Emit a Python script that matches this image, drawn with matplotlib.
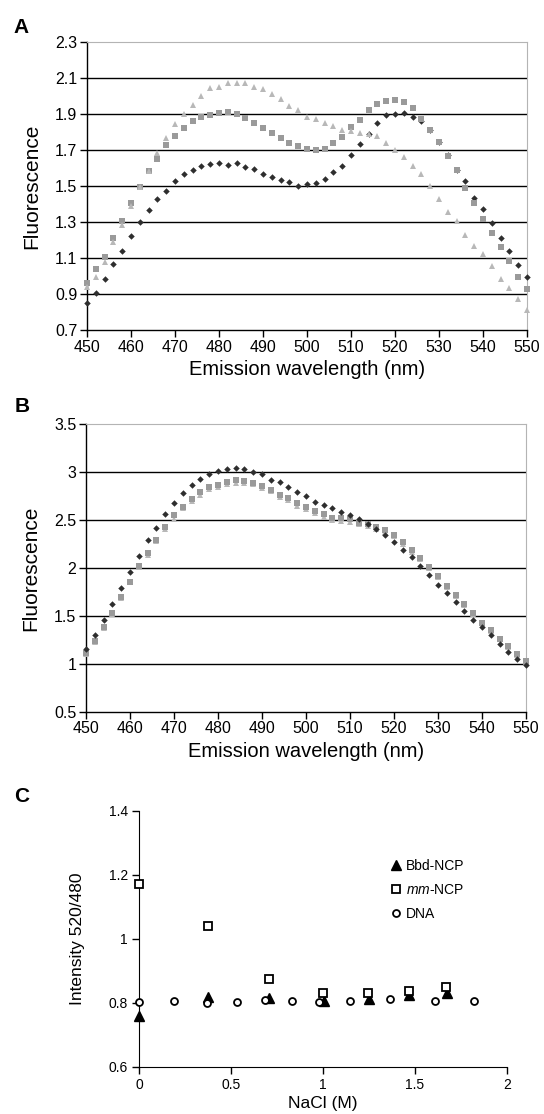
import numpy as np
import matplotlib
matplotlib.use("Agg")
import matplotlib.pyplot as plt

plt.rcParams['font.family'] = ['Liberation Sans', 'DejaVu Sans']
plt.rcParams['mathtext.fontset'] = 'custom'
plt.rcParams['mathtext.rm'] = 'Liberation Sans'
plt.rcParams['mathtext.it'] = 'Liberation Sans:italic'

# emission wavelengths (nm), every 2 nm
wl = np.arange(450, 551, 2)

# panel A
a_dia = [0.852, 0.907, 0.985, 1.065, 1.141, 1.220, 1.298, 1.365, 1.426, 1.470, 1.528,
         1.567, 1.589, 1.611, 1.622, 1.626, 1.619, 1.626, 1.607, 1.593, 1.567,
         1.548, 1.531, 1.520, 1.498, 1.511, 1.517, 1.539, 1.576, 1.609, 1.672,
         1.731, 1.789, 1.850, 1.893, 1.902, 1.904, 1.881, 1.859, 1.809, 1.746,
         1.672, 1.591, 1.526, 1.435, 1.370, 1.296, 1.213, 1.141, 1.061, 0.994]
a_sq = [0.963, 1.037, 1.106, 1.213, 1.304, 1.404, 1.496, 1.585, 1.650, 1.726, 1.776,
        1.820, 1.859, 1.881, 1.896, 1.906, 1.911, 1.900, 1.878, 1.852, 1.824,
        1.796, 1.767, 1.741, 1.724, 1.704, 1.700, 1.706, 1.737, 1.774, 1.826,
        1.865, 1.920, 1.954, 1.970, 1.980, 1.969, 1.931, 1.874, 1.809, 1.746,
        1.665, 1.591, 1.489, 1.404, 1.319, 1.241, 1.163, 1.083, 0.993, 0.928]
a_tri = [0.941, 0.996, 1.080, 1.187, 1.281, 1.391, 1.496, 1.585, 1.681, 1.769, 1.843,
         1.900, 1.952, 2.000, 2.044, 2.048, 2.070, 2.074, 2.074, 2.052, 2.039,
         2.011, 1.983, 1.946, 1.922, 1.881, 1.872, 1.848, 1.833, 1.811, 1.806,
         1.796, 1.787, 1.780, 1.741, 1.700, 1.663, 1.613, 1.565, 1.502, 1.428,
         1.357, 1.306, 1.230, 1.167, 1.120, 1.056, 0.985, 0.935, 0.870, 0.811]

# panel B
b_dia = [1.157, 1.303, 1.453, 1.621, 1.791, 1.959, 2.126, 2.294, 2.419, 2.562, 2.674,
         2.782, 2.865, 2.928, 2.977, 3.008, 3.036, 3.043, 3.033, 3.005, 2.980,
         2.921, 2.893, 2.841, 2.792, 2.747, 2.688, 2.660, 2.621, 2.583, 2.552,
         2.513, 2.457, 2.402, 2.342, 2.273, 2.185, 2.109, 2.025, 1.924, 1.826,
         1.739, 1.645, 1.551, 1.460, 1.387, 1.303, 1.209, 1.126, 1.052, 0.990]
b_sq = [1.112, 1.237, 1.384, 1.530, 1.694, 1.854, 2.018, 2.161, 2.294, 2.430, 2.548,
        2.639, 2.722, 2.792, 2.844, 2.865, 2.900, 2.914, 2.911, 2.890, 2.855,
        2.817, 2.766, 2.726, 2.674, 2.639, 2.596, 2.562, 2.524, 2.517, 2.510,
        2.464, 2.457, 2.423, 2.395, 2.349, 2.266, 2.185, 2.105, 2.008, 1.914,
        1.816, 1.715, 1.621, 1.524, 1.429, 1.349, 1.262, 1.181, 1.098, 1.028]
b_tri = [1.100, 1.225, 1.375, 1.520, 1.690, 1.850, 2.010, 2.135, 2.285, 2.405, 2.515,
         2.625, 2.700, 2.765, 2.820, 2.845, 2.875, 2.885, 2.885, 2.875, 2.840,
         2.800, 2.745, 2.705, 2.650, 2.615, 2.575, 2.535, 2.500, 2.490, 2.475,
         2.455, 2.440, 2.405, 2.375, 2.330, 2.250, 2.170, 2.090, 2.000, 1.905,
         1.805, 1.705, 1.610, 1.515, 1.420, 1.340, 1.255, 1.175, 1.090, 1.020]

# panel C
nacl_ncp = [0, 0.377, 0.709, 1.006, 1.249, 1.470, 1.672]
bbd_ncp = [0.759, 0.820, 0.817, 0.806, 0.814, 0.825, 0.830]
nacl_mm = [0, 0.377, 0.704, 0.998, 1.247, 1.468, 1.670]
mm_ncp = [1.172, 1.040, 0.875, 0.830, 0.830, 0.838, 0.849]
nacl_dna = [0, 0.189, 0.370, 0.534, 0.685, 0.834, 0.979, 1.149, 1.364, 1.606, 1.819]
dna = [0.803, 0.806, 0.800, 0.803, 0.809, 0.806, 0.803, 0.806, 0.814, 0.806, 0.806]

DARK = '#2e2e2e'
MID = '#9a9a9a'
LIGHT = '#b8b8b8'
FRAME = '#b4b4b4'

fig = plt.figure(figsize=(5.44, 11.14), dpi=100)


def spectrum_panel(rect, ymin, ymax, ystep, series, ylabels):
    ax = fig.add_axes(rect)
    for y, m, c, ms in series:
        ax.plot(wl, y, linestyle='none', marker=m, color=c, ms=ms, mew=0, clip_on=False, zorder=3)
    ax.set_xlim(450, 550)
    ax.set_ylim(ymin, ymax)
    ax.set_xticks(np.arange(450, 551, 10))
    ticks = np.arange(ymin, ymax + 1e-9, ystep)
    ax.set_yticks(ticks)
    ax.set_yticklabels(ylabels)
    for t in ticks[1:-1]:
        ax.axhline(t, color='black', lw=1.0, zorder=1)
    ax.spines['top'].set_color(FRAME)
    ax.spines['right'].set_color(FRAME)
    ax.spines['left'].set_linewidth(1.0)
    ax.spines['bottom'].set_linewidth(1.0)
    ax.tick_params(axis='both', direction='out', length=5, width=1.0, labelsize=11.5, pad=2)
    ax.set_xlabel('Emission wavelength (nm)', fontsize=14.5, labelpad=4)
    ax.set_ylabel('Fluorescence', fontsize=15, labelpad=10)
    return ax


axA = spectrum_panel([0.1599, 0.7038, 0.8088, 0.2585], 0.7, 2.3, 0.2,
                     [(a_dia, 'D', DARK, 3.3), (a_sq, 's', MID, 4.2), (a_tri, '^', LIGHT, 5.0)],
                     ['0.7', '0.9', '1.1', '1.3', '1.5', '1.7', '1.9', '2.1', '2.3'])
axB = spectrum_panel([0.1581, 0.3613, 0.8088, 0.2578], 0.5, 3.5, 0.5,
                     [(b_tri, '^', LIGHT, 5.0), (b_sq, 's', MID, 4.2), (b_dia, 'D', DARK, 3.3)],
                     ['0.5', '1', '1.5', '2', '2.5', '3', '3.5'])

# panel C
axC = fig.add_axes([0.2555, 0.0422, 0.6765, 0.2298])
axC.plot(nacl_ncp, bbd_ncp, linestyle='none', marker='^', color='black', ms=6.5,
         clip_on=False, zorder=3, label='Bbd-NCP')
axC.plot(nacl_mm, mm_ncp, linestyle='none', marker='s', mfc='white', mec='black', mew=1.3, ms=5.5,
         clip_on=False, zorder=3, label=r'$\it{mm}$-NCP')
axC.plot(nacl_dna, dna, linestyle='none', marker='o', mfc='white', mec='black', mew=1.3, ms=5.0,
         clip_on=False, zorder=3, label='DNA')
axC.set_xlim(0, 2)
axC.set_ylim(0.6, 1.4)
axC.set_xticks([0, 0.5, 1, 1.5, 2])
axC.set_xticklabels(['0', '0.5', '1', '1.5', '2'])
axC.set_yticks([0.6, 0.8, 1.0, 1.2, 1.4])
axC.set_yticklabels(['0.6', '0.8', '1', '1.2', '1.4'])
axC.spines['top'].set_visible(False)
axC.spines['right'].set_visible(False)
axC.tick_params(axis='both', direction='out', length=5, width=1.0, labelsize=10, pad=3)
axC.set_xlabel('NaCl (M)', fontsize=12.5, labelpad=3)
axC.set_ylabel('Intensity 520/480', fontsize=12.5, labelpad=17)
axC.legend(loc='upper left', bbox_to_anchor=(0.685, 0.812), frameon=False, fontsize=10,
           handlelength=0.7, handletextpad=0.35, labelspacing=0.7, borderpad=0, borderaxespad=0)

# panel letters
fig.text(0.024, 0.975, 'A', fontsize=15, fontweight='bold', va='center')
fig.text(0.027, 0.635, 'B', fontsize=15, fontweight='bold', va='center')
fig.text(0.026, 0.285, 'C', fontsize=15, fontweight='bold', va='center')

fig.savefig('out.png', dpi=100)
